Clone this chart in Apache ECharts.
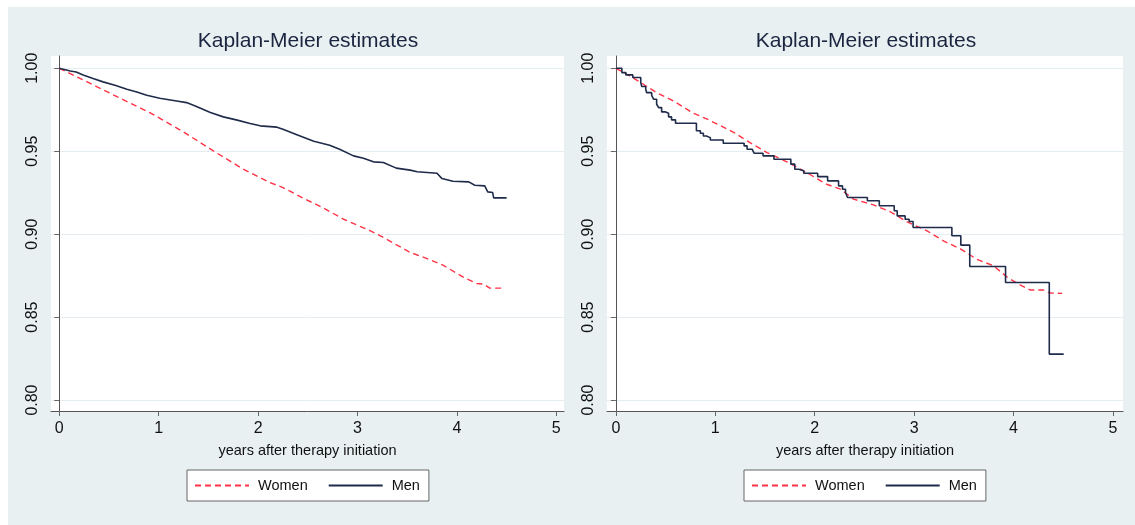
<!DOCTYPE html>
<html>
<head>
<meta charset="utf-8">
<title>Kaplan-Meier estimates</title>
<script src="https://cdn.jsdelivr.net/npm/echarts@6/dist/echarts.min.js"></script>
<style>
  html, body { margin: 0; padding: 0; background: #fff; }
  #chart { width: 1135px; height: 525px; }
</style>
</head>
<body>
<div id="chart"></div>
<script>
// survival estimates
const leftWomenX = [0, 0.24, 0.58, 0.91, 1.25, 1.55, 1.85, 2.12, 2.25, 2.46, 2.66, 2.86, 3.13, 3.26, 3.53, 3.70, 3.86, 4.07, 4.20, 4.27, 4.33, 4.47];
const leftWomenY = [1.000, 0.9930, 0.9829, 0.9733, 0.9616, 0.9502, 0.9392, 0.9311, 0.9281, 0.9215, 0.9157, 0.9090, 0.9020, 0.8980, 0.8890, 0.8853, 0.8813, 0.8739, 0.8703, 0.8699, 0.8675, 0.8675];

const leftMenX = [0, 0.11, 0.17, 0.24, 0.34, 0.44, 0.56, 0.68, 0.78, 0.88, 1.01, 1.18, 1.28, 1.38, 1.52, 1.65, 1.78, 1.92, 2.02, 2.19, 2.25, 2.39, 2.56, 2.72, 2.82, 2.96, 3.06, 3.16, 3.26, 3.39, 3.53, 3.60, 3.80, 3.85, 3.96, 4.12, 4.18, 4.28, 4.31, 4.36, 4.37, 4.50];
const leftMenY = [1.000, 0.9984, 0.9978, 0.9960, 0.9938, 0.9918, 0.9898, 0.9873, 0.9857, 0.9837, 0.9819, 0.9803, 0.9793, 0.9769, 0.9733, 0.9707, 0.9689, 0.9667, 0.9653, 0.9645, 0.9633, 0.9600, 0.9560, 0.9536, 0.9512, 0.9472, 0.9458, 0.9436, 0.9432, 0.9398, 0.9386, 0.9376, 0.9367, 0.9335, 0.9319, 0.9315, 0.9295, 0.9291, 0.9255, 0.9251, 0.9219, 0.9219];

const rightWomenX = [0, 0.11, 0.25, 0.41, 0.58, 0.78, 0.92, 1.19, 1.32, 1.52, 1.72, 1.92, 2.12, 2.26, 2.39, 2.59, 2.76, 2.93, 3.13, 3.30, 3.47, 3.63, 3.80, 3.94, 4.07, 4.17, 4.30, 4.37, 4.49];
const rightWomenY = [1.000, 0.9964, 0.9914, 0.9853, 0.9803, 0.9729, 0.9693, 0.9612, 0.9562, 0.9492, 0.9436, 0.9371, 0.9301, 0.9271, 0.9211, 0.9177, 0.9135, 0.9074, 0.9020, 0.8958, 0.8910, 0.8849, 0.8809, 0.8739, 0.8693, 0.8663, 0.8663, 0.8645, 0.8643];

// men, right panel: drop times and the level after each drop (step function)
const rightMenX = [0, 0.06, 0.10, 0.17, 0.25, 0.26, 0.30, 0.31, 0.36, 0.38, 0.41, 0.43, 0.46, 0.50, 0.53, 0.56, 0.60, 0.81, 0.85, 0.88, 0.91, 0.95, 1.08, 1.29, 1.32, 1.37, 1.39, 1.48, 1.59, 1.76, 1.80, 1.84, 1.89, 2.03, 2.13, 2.24, 2.28, 2.31, 2.33, 2.53, 2.65, 2.80, 2.83, 2.91, 2.95, 2.99, 3.38, 3.47, 3.56, 3.92, 4.36, 4.505];
const rightMenY = [1.000, 0.9974, 0.9960, 0.9944, 0.9914, 0.9890, 0.9874, 0.9853, 0.9837, 0.9813, 0.9783, 0.9763, 0.9737, 0.9729, 0.9707, 0.9689, 0.9669, 0.9623, 0.9608, 0.9592, 0.9582, 0.9568, 0.9548, 0.9532, 0.9512, 0.9502, 0.9488, 0.9472, 0.9452, 0.9422, 0.9391, 0.9382, 0.9367, 0.9347, 0.9321, 0.9291, 0.9271, 0.9251, 0.9221, 0.9201, 0.9171, 0.9141, 0.9110, 0.9090, 0.9076, 0.9040, 0.8990, 0.8934, 0.8805, 0.8709, 0.8277, 0.8277];

const xTicks = [0, 1, 2, 3, 4, 5];
const yTicks = [0.80, 0.85, 0.90, 0.95, 1.00];

const titleText = 'Kaplan-Meier estimates';
const xName = 'years after therapy initiation';

const RED = '#ff3346';
const NAVY = '#1f2b4a';
const SANS = "'Liberation Sans', Arial, sans-serif";

function pairs(xs, ys) {
  return xs.map((x, i) => [x, ys[i]]);
}

function makeXAxis(gridIndex, min, max) {
  return {
    type: 'value',
    gridIndex: gridIndex,
    min: min,
    max: max,
    name: xName,
    nameLocation: 'middle',
    nameGap: 32,
    nameTextStyle: {color: '#111', fontFamily: SANS, fontSize: 14.5},
    axisLine: {lineStyle: {color: '#555', width: 1}},
    axisTick: {show: true, length: 5, customValues: xTicks, lineStyle: {color: '#666'}},
    axisLabel: {customValues: xTicks, margin: 10, color: '#111', fontFamily: SANS, fontSize: 16},
    splitLine: {show: false}
  };
}

function makeYAxis(gridIndex) {
  return {
    type: 'value',
    gridIndex: gridIndex,
    min: 0.7934,
    max: 1.0074,
    axisLine: {show: true, lineStyle: {color: '#555', width: 1}},
    axisTick: {show: true, length: 5, customValues: yTicks, lineStyle: {color: '#666'}},
    axisLabel: {
      customValues: yTicks,
      rotate: 90,
      margin: 10,
      color: '#111',
      fontFamily: SANS,
      fontSize: 16,
      formatter: v => v.toFixed(2)
    },
    splitLine: {show: true, lineStyle: {color: '#e4edf1', width: 1}}
  };
}

function makeLegend(left) {
  return {
    left: left,
    top: 470,
    orient: 'horizontal',
    data: ['Women', 'Men'],
    backgroundColor: '#fff',
    borderColor: '#666',
    borderWidth: 1,
    borderRadius: 0,
    padding: [8, 9, 8, 7],
    itemGap: 20,
    itemWidth: 54,
    itemHeight: 14,
    selectedMode: false,
    itemStyle: {opacity: 0},
    textStyle: {color: '#111', fontFamily: SANS, fontSize: 14.5, padding: [0, 0, 0, 4]}
  };
}

function women(xAxisIndex, data) {
  return {
    type: 'line',
    name: 'Women',
    xAxisIndex: xAxisIndex,
    yAxisIndex: xAxisIndex,
    data: data,
    symbol: 'none',
    lineStyle: {color: RED, width: 1.4, type: [6, 4]},
    itemStyle: {color: RED},
    z: 2
  };
}

function men(xAxisIndex, data, step) {
  return {
    type: 'line',
    name: 'Men',
    xAxisIndex: xAxisIndex,
    yAxisIndex: xAxisIndex,
    data: data,
    step: step,
    symbol: 'none',
    lineStyle: {color: NAVY, width: 1.6},
    itemStyle: {color: NAVY},
    z: 3
  };
}

const chart = echarts.init(document.getElementById('chart'));

chart.setOption({
  backgroundColor: '#e9f0f2',
  animation: false,
  graphic: [
    {type: 'rect', shape: {x: 0, y: 0, width: 1135, height: 7}, style: {fill: '#fff'}, z: 100},
    {type: 'rect', shape: {x: 0, y: 0, width: 8, height: 525}, style: {fill: '#fff'}, z: 100}
  ],
  title: [
    {text: titleText, left: 303, top: 26, textAlign: 'center',
      textStyle: {color: '#1a2540', fontFamily: SANS, fontSize: 21, fontWeight: 'normal'}},
    {text: titleText, left: 861, top: 26, textAlign: 'center',
      textStyle: {color: '#1a2540', fontFamily: SANS, fontSize: 21, fontWeight: 'normal'}}
  ],
  legend: [makeLegend(187), makeLegend(744)],
  grid: [
    {left: 51, top: 56, width: 513, height: 355, show: true, backgroundColor: '#fff', borderWidth: 0},
    {left: 607, top: 56, width: 516, height: 355, show: true, backgroundColor: '#fff', borderWidth: 0}
  ],
  xAxis: [makeXAxis(0, -0.0835, 5.0775), makeXAxis(1, -0.0895, 5.1016)],
  yAxis: [makeYAxis(0), makeYAxis(1)],
  series: [
    women(0, pairs(leftWomenX, leftWomenY)),
    men(0, pairs(leftMenX, leftMenY), false),
    women(1, pairs(rightWomenX, rightWomenY)),
    men(1, pairs(rightMenX, rightMenY), 'end')
  ]
});
</script>
</body>
</html>
